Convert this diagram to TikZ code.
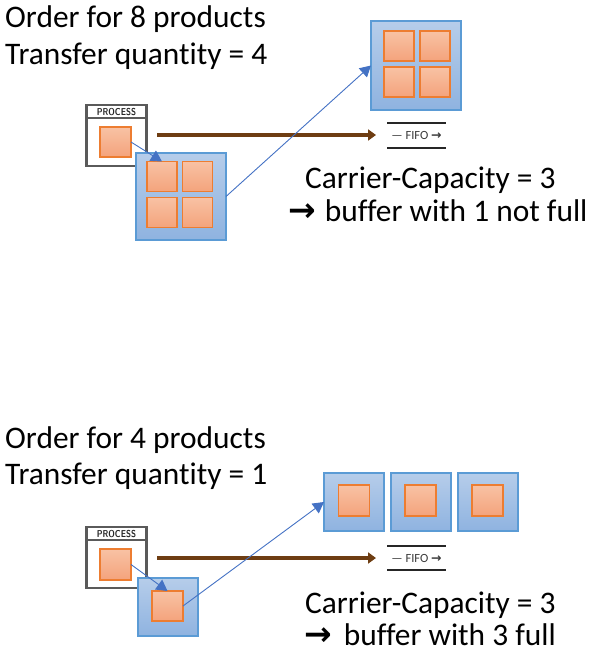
\documentclass[tikz,border=0pt]{standalone}
\usepackage{fontspec}
\setmainfont{Carlito}[Ligatures={NoCommon,NoContextual}]
\newfontfamily\dejavu{DejaVu Sans}
\newfontfamily\dejavub{DejaVu Sans Bold}
\usetikzlibrary{arrows.meta}
\definecolor{carrierborder}{HTML}{5B9BD5}
\definecolor{carriertop}{HTML}{B6CDEA}
\definecolor{carrierbot}{HTML}{8FB3E0}
\definecolor{prodborder}{HTML}{ED7D31}
\definecolor{prodtop}{HTML}{F8C2A4}
\definecolor{prodbot}{HTML}{F4A37C}
\definecolor{procgrey}{HTML}{5A5A5A}
\definecolor{flowbrown}{HTML}{6E3D12}
\definecolor{linkblue}{HTML}{4472C4}
\definecolor{fifogrey}{HTML}{3A3A3A}
\tikzset{
  carrier/.style={draw=carrierborder, line width=1.1pt, top color=carriertop, bottom color=carrierbot, inner sep=0pt, outer sep=0pt},
  product/.style={draw=prodborder, line width=1.2pt, top color=prodtop, bottom color=prodbot, inner sep=0pt, outer sep=0pt, minimum width=30pt, minimum height=30pt},
  procbox/.style={draw=procgrey, line width=2.8pt, fill=white, inner sep=0pt, outer sep=0pt},
  bigtext/.style={font=\fontsize{31.4}{36}\selectfont, inner sep=0pt, anchor=base west},
  flow/.style={draw=flowbrown, line width=4pt, -{Triangle[length=8pt,width=11pt]}},
  link/.style={draw=linkblue, line width=0.9pt, -{Triangle[length=11pt,width=12pt]}},
  fifoline/.style={draw=black!85, line width=1.8pt},
  fifotext/.style={font=\fontsize{12.5}{13}\selectfont, text=fifogrey, inner sep=0pt},
  proclabel/.style={font=\sffamily\bfseries\fontsize{10}{10}\selectfont, text=black!85, inner sep=0pt}
}
\newcommand{\bigarrow}{{\dejavub\fontsize{33}{36}\selectfont →}}
\newcommand{\fifoarrow}{{\dejavub\fontsize{12.5}{13}\selectfont →}}
\begin{document}
\begin{tikzpicture}[x=1pt,y=-1pt]
\useasboundingbox (0,0) rectangle (598,661);

% ---------------- TOP SCENARIO ----------------
\node[bigtext] (t1) at (5,28) {Order for 8 products};
\node[bigtext] (t2) at (5,64) {Transfer quantity = 4};

% process box
\node[procbox, minimum width=60pt, minimum height=61pt] (procA) at (116.5,135.5) {};
\draw[procgrey, line width=1.4pt] (88,118) -- (145,118);
\node[proclabel, xscale=0.82] (procAlbl) at (116.5,112) {PROCESS};
\node[product, minimum width=31pt, minimum height=30pt] (pA) at (115.5,142) {};

% brown flow arrow
\coordinate (flowAs) at (157,135);
\coordinate (flowAe) at (376,135);
\draw[flow] (flowAs) -- (flowAe);

% FIFO symbol
\draw[fifoline] (387,123) -- (446,123);
\draw[fifoline] (387,148) -- (446,148);
\node[fifotext] (fifoA) at (416.5,135.5) {— FIFO \fifoarrow};

% carrier with 4 products (at process)
\node[carrier, minimum width=90pt, minimum height=87pt] (cA) at (181,196.5) {};
\node[product] (qA1) at (162,176.5) {};
\node[product] (qA2) at (197.5,176.5) {};
\node[product] (qA3) at (162,212.5) {};
\node[product] (qA4) at (197.5,212.5) {};

% carrier with 4 products (destination)
\node[carrier, minimum width=90pt, minimum height=89pt] (dA) at (416,65.5) {};
\node[product] (rA1) at (399,46) {};
\node[product] (rA2) at (435,46) {};
\node[product] (rA3) at (399,82) {};
\node[product] (rA4) at (435,82) {};

% links
\draw[link] (pA.east) -- (qA1.north);
\draw[link] (cA.east) -- (dA.west);

% capacity text
\node[bigtext] (capA) at (305,188) {Carrier-Capacity = 3};
\node[bigtext] (bufA) at (288,221) {\bigarrow\hspace{9pt}buffer with 1 not full};

% ---------------- BOTTOM SCENARIO ----------------
\node[bigtext] (b1) at (5,448) {Order for 4 products};
\node[bigtext] (b2) at (5,484) {Transfer quantity = 1};

\node[procbox, minimum width=60pt, minimum height=61pt] (procB) at (116.5,557.5) {};
\draw[procgrey, line width=1.4pt] (88,540) -- (145,540);
\node[proclabel, xscale=0.82] (procBlbl) at (116.5,534) {PROCESS};
\node[product, minimum width=31pt, minimum height=31pt] (pB) at (115.5,564.5) {};

\coordinate (flowBs) at (157,558);
\coordinate (flowBe) at (376,558);
\draw[flow] (flowBs) -- (flowBe);

\draw[fifoline] (387,546) -- (446,546);
\draw[fifoline] (387,570) -- (446,570);
\node[fifotext] (fifoB) at (416.5,558) {— FIFO \fifoarrow};

% carrier at process
\node[carrier, minimum width=60pt, minimum height=58pt] (cB) at (168,607) {};
\node[product, minimum width=31pt, minimum height=30pt] (qB) at (167.5,606) {};

% destination carriers
\node[carrier, minimum width=60pt, minimum height=58pt] (d1) at (354,502) {};
\node[carrier, minimum width=60pt, minimum height=58pt] (d2) at (421,502) {};
\node[carrier, minimum width=60pt, minimum height=58pt] (d3) at (488,502) {};
\node[product, minimum width=31pt, minimum height=31pt] (r1) at (354,500.5) {};
\node[product, minimum width=31pt, minimum height=31pt] (r2) at (420.5,500.5) {};
\node[product, minimum width=31pt, minimum height=31pt] (r3) at (487.5,500.5) {};

\draw[link] (pB.east) -- (qB.north);
\draw[link] (qB.east) -- (d1.west);

\node[bigtext] (capB) at (305,613) {Carrier-Capacity = 3};
\node[bigtext] (bufB) at (304,645) {\bigarrow\hspace{12pt}buffer with 3 full};
\end{tikzpicture}
\end{document}
